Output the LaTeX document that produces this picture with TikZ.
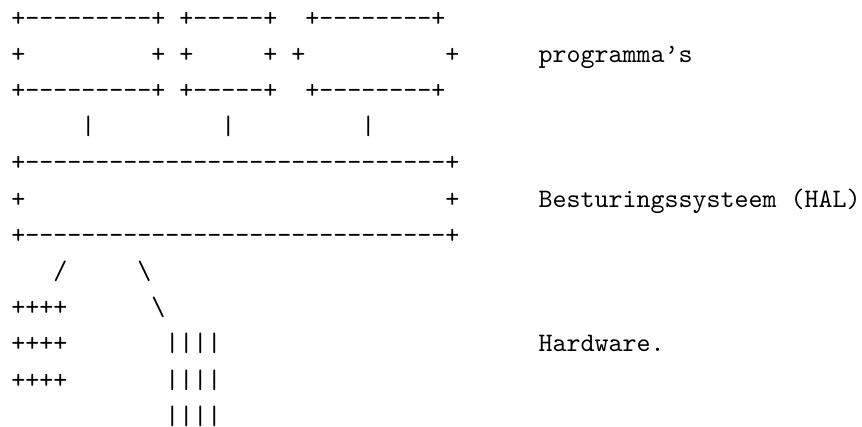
\documentclass[tikz,border=0pt]{standalone}
\usepackage{fontspec}
% monospaced Latin Modern, without TeX ligatures so that runs of hyphens stay hyphens
\setmonofont{lmmono10-regular.otf}
\begin{document}
\begin{tikzpicture}[x=1pt,y=-1pt,
  art/.style={anchor=base west,inner sep=0pt,outer sep=0pt,
    font=\ttfamily\fontsize{26.67}{32}\selectfont}]
\useasboundingbox (0,0) rectangle (862,427);
% column -> x of the character cell, row -> baseline
\def\cx#1{11.3+14*#1}
\def\by#1{26.2+36.2*#1}

% programs: three boxes
\node[art] (pa1) at ({\cx{0}},{\by{0}})  {+---------+};
\node[art] (pb1) at ({\cx{12}},{\by{0}}) {+-----+};
\node[art] (pc1) at ({\cx{21}},{\by{0}}) {+--------+};
\node[art] (pa2) at ({\cx{0}},{\by{1}})  {+};
\node[art] (pa3) at ({\cx{10}},{\by{1}}) {+};
\node[art] (pb2) at ({\cx{12}},{\by{1}}) {+};
\node[art] (pb3) at ({\cx{18}},{\by{1}}) {+};
\node[art] (pc2) at ({\cx{20}},{\by{1}}) {+};
\node[art] (pc3) at ({\cx{31}},{\by{1}}) {+};
\node[art] (pa4) at ({\cx{0}},{\by{2}})  {+---------+};
\node[art] (pb4) at ({\cx{12}},{\by{2}}) {+-----+};
\node[art] (pc4) at ({\cx{21}},{\by{2}}) {+--------+};

% links down to the operating system
\node[art] (la) at ({\cx{5}},{\by{3}})  {|};
\node[art] (lb) at ({\cx{15}},{\by{3}}) {|};
\node[art] (lc) at ({\cx{25}},{\by{3}}) {|};

% operating system box
\node[art] (os1) at ({\cx{0}},{\by{4}})  {+------------------------------+};
\node[art] (os2) at ({\cx{0}},{\by{5}})  {+};
\node[art] (os3) at ({\cx{31}},{\by{5}}) {+};
\node[art] (os4) at ({\cx{0}},{\by{6}})  {+------------------------------+};

% branches to the hardware
\node[art] (sl1) at ({\cx{3}},{\by{7}})  {/};
\node[art] (bs1) at ({\cx{9}},{\by{7}})  {\textbackslash};
\node[art] (bs2) at ({\cx{10}},{\by{8}}) {\textbackslash};

% hardware blocks
\node[art] (hw1) at ({\cx{0}},{\by{8}})   {++++};
\node[art] (hw2) at ({\cx{0}},{\by{9}})   {++++};
\node[art] (hw3) at ({\cx{0}},{\by{10}})  {++++};
\node[art] (hv1) at ({\cx{11}},{\by{9}})  {||||};
\node[art] (hv2) at ({\cx{11}},{\by{10}}) {||||};
\node[art] (hv3) at ({\cx{11}},{\by{11}}) {||||};

% layer names
\node[art] (lab1) at (538.5,{\by{1}}) {programma’s};
\node[art] (lab2) at (538.5,{\by{5}}) {Besturingssysteem (HAL)};
\node[art] (lab3) at (538.5,{\by{9}}) {Hardware.};
\end{tikzpicture}
\end{document}
